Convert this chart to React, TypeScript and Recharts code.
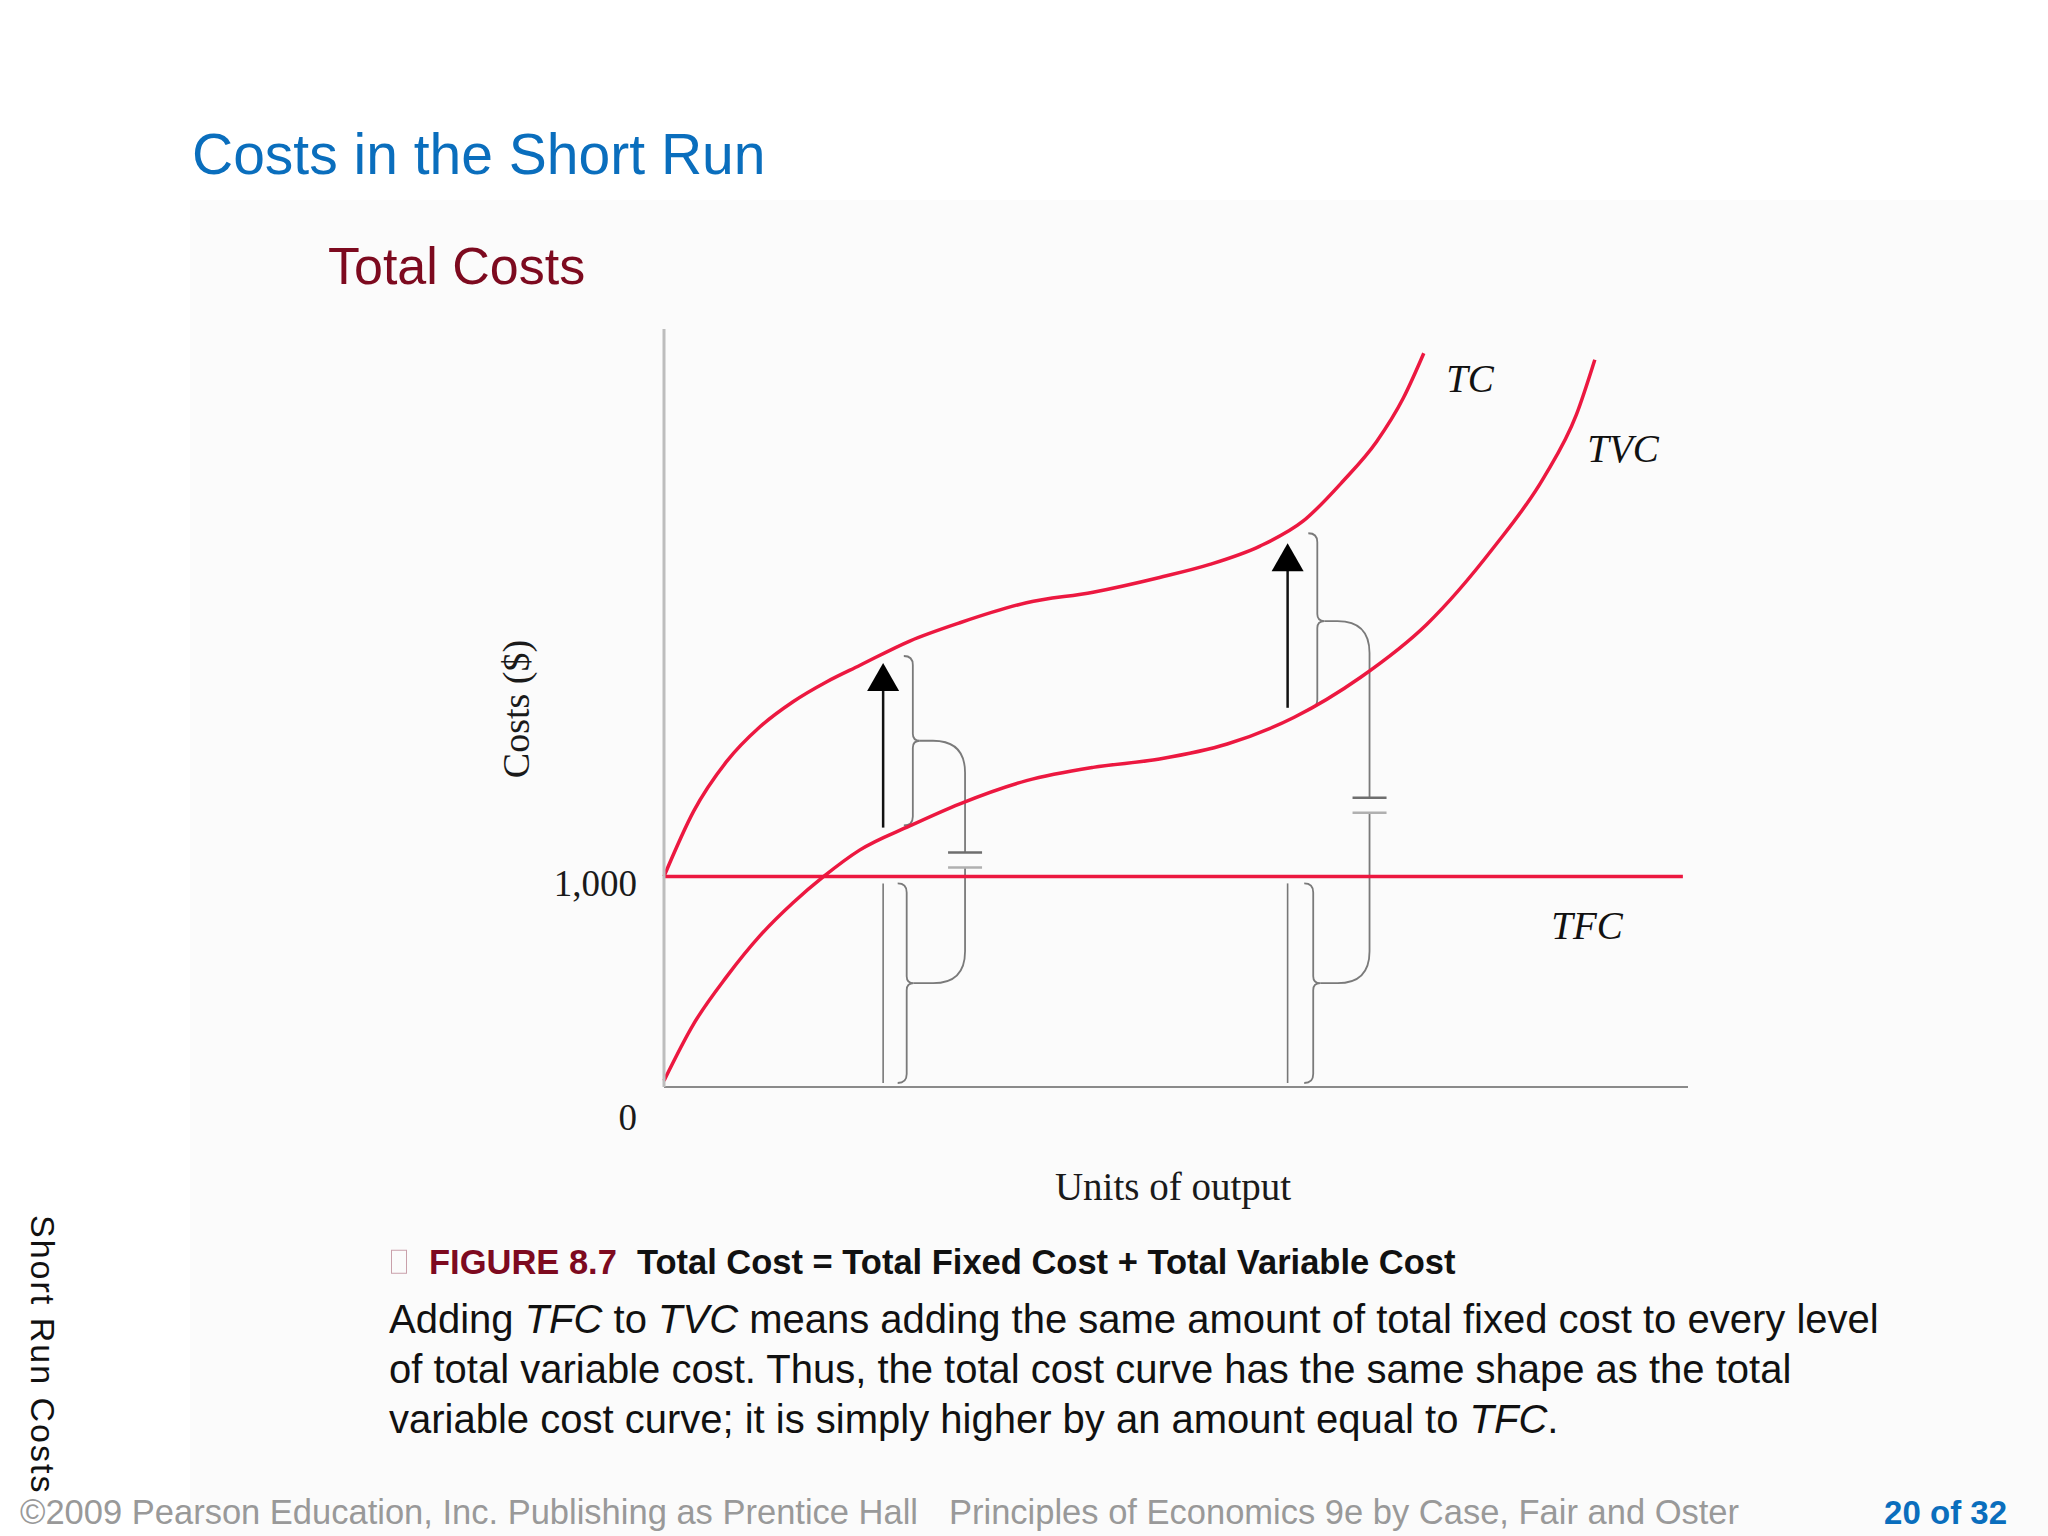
import { LineChart, Line, XAxis, YAxis, ReferenceLine } from "recharts";

// Units of output (0-100 along the axis) and cost in $
const tcQ = [0, 2.9, 6.1, 9.4, 12.6, 15.9, 19.1, 24.0, 28.9, 35.4, 41.9, 48.4, 53.3, 58.2, 62.4, 66.3, 69.6, 72.2, 74.2];
const tcCost = [1000, 1310, 1545, 1712, 1830, 1925, 2002, 2118, 2205, 2300, 2350, 2420, 2482, 2569, 2687, 2877, 3066, 3272, 3485];

const tvcQ = [0, 2.9, 6.1, 9.4, 12.6, 15.6, 19.1, 24.0, 28.9, 35.4, 41.9, 48.4, 55.0, 61.5, 68.0, 74.5, 81.0, 85.9, 89.1, 90.9];
const tvcCost = [30, 300, 523, 720, 875, 1000, 1125, 1240, 1345, 1455, 1518, 1558, 1629, 1755, 1945, 2198, 2561, 2893, 3193, 3454];

const tfcQ = [0, 99.5];
const tfcCost = [1000, 1000];

const yTicks = [0, 1000];

// the two "TC = TVC + TFC" annotations
const arrowQ = [21.4, 60.9];
const arrowFrom = [1232, 1801];
const arrowTo = [2014, 2583];
const upperBraceQ = [24.3, 63.8];
const upperBraceTop = [2047, 2630];
const upperBraceBottom = [1242, 1796];
const lowerBraceQ = [23.7, 63.4];
const lowerBraceTop = [967, 967];
const lowerBraceBottom = [19, 19];
const linkQ = [29.4, 68.9];
const linkGapTop = [1114, 1374];
const linkGapBottom = [1043, 1303];

const RED = "#ec1840";
const SERIF = "'Liberation Serif', 'DejaVu Serif', serif";
const SANS = "'Liberation Sans', Arial, sans-serif";

const toRows = (qs: number[], cs: number[]) => qs.map((q, i) => ({ q, c: cs[i] }));

const ArrowShape = (p: any) => {
  const { x1, y1, x2, y2 } = p;
  return (
    <g>
      <line x1={x1} y1={y1} x2={x2} y2={y2 + 26} stroke="#111" strokeWidth={2.5} />
      <polygon points={`${x2},${y2} ${x2 - 16},${y2 + 28} ${x2 + 16},${y2 + 28}`} fill="#000" />
    </g>
  );
};

const BraceShape = (p: any) => {
  const { x1, y1, y2 } = p;
  const top = Math.min(y1, y2);
  const bot = Math.max(y1, y2);
  const m = (top + bot) / 2;
  const x = x1, h = 9, k = 7;
  const d = `M${x - h},${top} Q${x},${top} ${x},${top + h} L${x},${m - k} Q${x},${m} ${x + k},${m} Q${x},${m} ${x},${m + k} L${x},${bot - h} Q${x},${bot} ${x - h},${bot}`;
  return <path d={d} fill="none" stroke="#7a7a7a" strokeWidth={1.8} />;
};

const LinkShape = (p: any) => {
  const { x1, y1, x2, y2, barColor } = p;
  const dir = y2 > y1 ? 1 : -1;
  const start = x1 + 7;
  const r = Math.min(32, x2 - start, Math.abs(y2 - y1));
  const d = `M${start},${y1} L${x2 - r},${y1} Q${x2},${y1} ${x2},${y1 + dir * r} L${x2},${y2}`;
  return (
    <g>
      <path d={d} fill="none" stroke="#7a7a7a" strokeWidth={1.8} />
      <line x1={x2 - 17} x2={x2 + 17} y1={y2} y2={y2} stroke={barColor} strokeWidth={2.5} />
    </g>
  );
};

const GuideShape = (p: any) => (
  <line x1={p.x1} y1={p.y1} x2={p.x2} y2={p.y2} stroke="#777" strokeWidth={1.6} />
);

const CostTick = (p: any) => {
  const { x, y, payload } = p;
  const v = payload.value;
  return (
    <text
      x={x - 19}
      y={v === 0 ? y + 30 : y + 7}
      textAnchor="end"
      dominantBaseline="central"
      fontFamily={SERIF}
      fontSize={37}
      fill="#1a1a1a"
    >
      {v === 0 ? "0" : v.toLocaleString("en-US")}
    </text>
  );
};

const abs = (left: number, top: number, extra: any = {}) => ({
  position: "absolute" as const,
  left,
  top,
  whiteSpace: "nowrap" as const,
  ...extra,
});

export default function App() {
  const tc = toRows(tcQ, tcCost);
  const tvc = toRows(tvcQ, tvcCost);
  const tfc = toRows(tfcQ, tfcCost);

  return (
    <div style={{ position: "absolute", left: 0, top: 0, width: 2048, height: 1536, background: "#fff", overflow: "hidden", fontFamily: SANS }}>
      <div style={abs(190, 200, { width: 1858, height: 1336, background: "#fbfbfb" })} />

      <div style={abs(192, 154, { transform: "translateY(-50%)", fontSize: 57, color: "#0a6ebd", lineHeight: 1 })}>
        Costs in the Short Run
      </div>
      <div style={abs(328, 266, { transform: "translateY(-50%)", fontSize: 52, color: "#7d0a1f", lineHeight: 1 })}>
        Total Costs
      </div>

      <div style={abs(400, 300)}>
        <LineChart width={1400} height={900} margin={{ top: 29, right: 112, bottom: 93, left: 164 }}>
          <XAxis
            type="number"
            dataKey="q"
            domain={[0, 100]}
            tick={false}
            tickLine={false}
            axisLine={{ stroke: "#8a8a8a", strokeWidth: 2 }}
            height={20}
          />
          <YAxis
            type="number"
            domain={[0, 3600]}
            ticks={yTicks}
            tick={<CostTick />}
            tickLine={false}
            axisLine={{ stroke: "#bdbdbd", strokeWidth: 3 }}
            width={100}
          />
          {arrowQ.map((q, i) => (
            <ReferenceLine
              key={`guide-${i}`}
              ifOverflow="visible"
              segment={[{ x: q, y: lowerBraceTop[i] }, { x: q, y: lowerBraceBottom[i] }]}
              shape={GuideShape}
            />
          ))}
          {upperBraceQ.map((q, i) => (
            <ReferenceLine
              key={`ub-${i}`}
              ifOverflow="visible"
              segment={[{ x: q, y: upperBraceTop[i] }, { x: q, y: upperBraceBottom[i] }]}
              shape={BraceShape}
            />
          ))}
          {lowerBraceQ.map((q, i) => (
            <ReferenceLine
              key={`lb-${i}`}
              ifOverflow="visible"
              segment={[{ x: q, y: lowerBraceTop[i] }, { x: q, y: lowerBraceBottom[i] }]}
              shape={BraceShape}
            />
          ))}
          {linkQ.map((q, i) => (
            <ReferenceLine
              key={`lu-${i}`}
              ifOverflow="visible"
              segment={[
                { x: upperBraceQ[i], y: (upperBraceTop[i] + upperBraceBottom[i]) / 2 },
                { x: q, y: linkGapTop[i] },
              ]}
              shape={(p: any) => <LinkShape {...p} barColor="#6e6e6e" />}
            />
          ))}
          {linkQ.map((q, i) => (
            <ReferenceLine
              key={`ll-${i}`}
              ifOverflow="visible"
              segment={[
                { x: lowerBraceQ[i], y: (lowerBraceTop[i] + lowerBraceBottom[i]) / 2 },
                { x: q, y: linkGapBottom[i] },
              ]}
              shape={(p: any) => <LinkShape {...p} barColor="#b0b0b0" />}
            />
          ))}
          {arrowQ.map((q, i) => (
            <ReferenceLine
              key={`arrow-${i}`}
              ifOverflow="visible"
              segment={[{ x: q, y: arrowFrom[i] }, { x: q, y: arrowTo[i] }]}
              shape={ArrowShape}
            />
          ))}
          <Line data={tfc} dataKey="c" type="linear" stroke={RED} strokeWidth={3.5} dot={false} isAnimationActive={false} />
          <Line data={tvc} dataKey="c" type="monotone" stroke={RED} strokeWidth={3.5} dot={false} isAnimationActive={false} />
          <Line data={tc} dataKey="c" type="monotone" stroke={RED} strokeWidth={3.5} dot={false} isAnimationActive={false} />
        </LineChart>
      </div>

      <div style={abs(1470, 378, { transform: "translate(-50%, -50%)", fontFamily: SERIF, fontStyle: "italic", fontSize: 39, color: "#111", lineHeight: 1 })}>TC</div>
      <div style={abs(1623, 448, { transform: "translate(-50%, -50%)", fontFamily: SERIF, fontStyle: "italic", fontSize: 39, color: "#111", lineHeight: 1 })}>TVC</div>
      <div style={abs(1587, 925, { transform: "translate(-50%, -50%)", fontFamily: SERIF, fontStyle: "italic", fontSize: 39, color: "#111", lineHeight: 1 })}>TFC</div>

      <div style={abs(516, 709, { transform: "translate(-50%, -50%) rotate(-90deg)", fontFamily: SERIF, fontSize: 38, color: "#1a1a1a", lineHeight: 1 })}>
        Costs ($)
      </div>
      <div style={abs(1173, 1186, { transform: "translate(-50%, -50%)", fontFamily: SERIF, fontSize: 39, color: "#1a1a1a", lineHeight: 1 })}>
        Units of output
      </div>

      <div style={abs(391, 1262, { transform: "translateY(-50%)", fontSize: 34.5, fontWeight: "bold", lineHeight: 1, display: "flex", alignItems: "center" })}>
        <span style={{ display: "inline-block", width: 14, height: 22, border: "1.5px solid #c9a0aa", marginRight: 22 }} />
        <span style={{ color: "#7d0a1f" }}>FIGURE 8.7</span>
        <span style={{ color: "#111", marginLeft: 20 }}>Total Cost = Total Fixed Cost + Total Variable Cost</span>
      </div>

      <div style={abs(389, 1294, { fontSize: 40, lineHeight: "50px", color: "#111" })}>
        <div>Adding <i>TFC</i> to <i>TVC</i> means adding the same amount of total fixed cost to every level</div>
        <div>of total variable cost. Thus, the total cost curve has the same shape as the total</div>
        <div>variable cost curve; it is simply higher by an amount equal to <i>TFC</i>.</div>
      </div>

      <div style={abs(43, 1215, { transform: "translateX(-50%)", writingMode: "vertical-rl", fontSize: 34, letterSpacing: 2, color: "#111", lineHeight: 1 })}>
        Short Run Costs
      </div>

      <div style={abs(20, 1512, { transform: "translateY(-50%)", fontSize: 34.5, color: "#999", lineHeight: 1 })}>
        ©2009 Pearson Education, Inc. Publishing as Prentice Hall
      </div>
      <div style={abs(949, 1512, { transform: "translateY(-50%)", fontSize: 34.5, color: "#999", lineHeight: 1 })}>
        Principles of Economics 9e by Case, Fair and Oster
      </div>
      <div style={abs(2007, 1512, { transform: "translate(-100%, -50%)", fontSize: 33, fontWeight: "bold", color: "#0a6ebd", lineHeight: 1 })}>
        20 of 32
      </div>
    </div>
  );
}
